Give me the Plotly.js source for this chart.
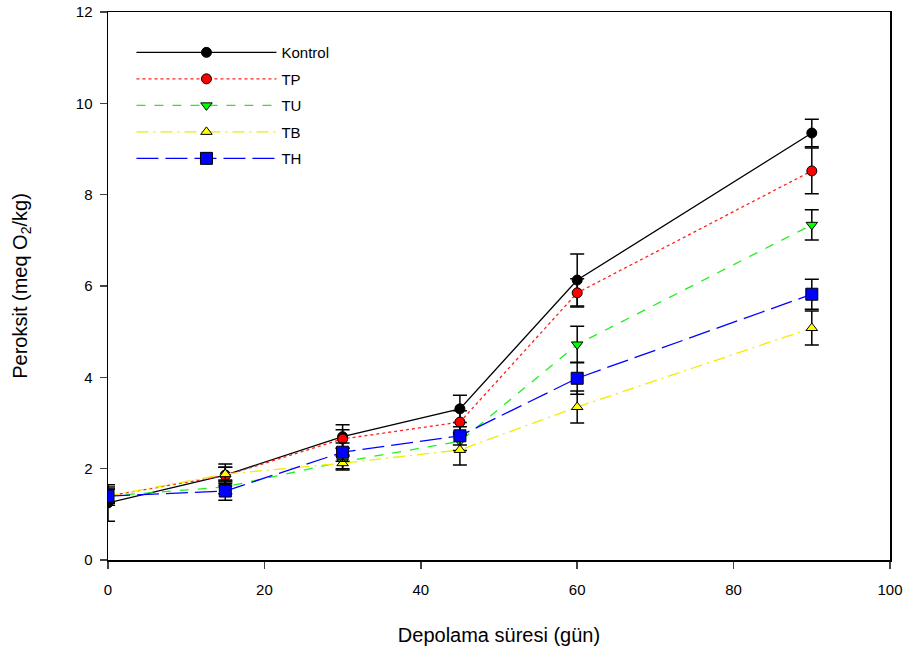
<!DOCTYPE html>
<html>
<head>
<meta charset="utf-8">
<script src="https://cdn.plot.ly/plotly-3.0.1.min.js"></script>
<style>html,body{margin:0;padding:0;background:#fff;}#chart{width:918px;height:659px;}</style>
</head>
<body>
<div id="chart"></div>
<script>
const days = [0, 15, 30, 45, 60, 90];
const seriesNames = ["Kontrol", "TP", "TU", "TB", "TH"];
const kontrol = [1.25, 1.86, 2.70, 3.31, 6.13, 9.35];
const kontrolErr = [0.40, 0.24, 0.26, 0.30, 0.57, 0.30];
const tp = [1.40, 1.85, 2.65, 3.02, 5.85, 8.52];
const tpErr = [0.20, 0.18, 0.20, 0.25, 0.31, 0.50];
const tu = [1.40, 1.60, 2.15, 2.60, 4.72, 7.34];
const tuErr = [0.15, 0.15, 0.15, 0.20, 0.40, 0.33];
const tb = [1.40, 1.88, 2.12, 2.41, 3.35, 5.08];
const tbErr = [0.15, 0.15, 0.15, 0.33, 0.35, 0.37];
const th = [1.40, 1.51, 2.36, 2.72, 3.98, 5.82];
const thErr = [0.15, 0.20, 0.20, 0.20, 0.35, 0.33];

const ys = [kontrol, tp, tu, tb, th];
const errs = [kontrolErr, tpErr, tuErr, tbErr, thErr];
const colors = ["#000000", "#ff0000", "#00ff00", "#ffff00", "#0000ff"];
const lineColors = ["#000000", "#ff2020", "#22ee22", "#eeee00", "#0000ff"];
const symbols = ["circle", "circle", "triangle-down", "triangle-up", "square"];
const dashes = ["solid", "dot", "dash", "12px,5px,2px,5px", "22px,7px"];

const traces = ys.map((y, i) => ({
  x: days, y: y, name: seriesNames[i], type: "scatter", mode: "lines+markers",
  legendgroup: "g" + i,
  line: {color: lineColors[i], width: 1.3, dash: dashes[i]},
  marker: {symbol: symbols[i], size: i === 4 ? 12 : 10, color: colors[i], line: {color: "#000", width: 1}},
  error_y: {type: "data", array: errs[i], visible: true, color: "#000", thickness: 1.5, width: 7}
}));

const fnt = "Liberation Sans, Arial, sans-serif";
const layout = {
  width: 918, height: 659,
  margin: {l: 108, r: 28, t: 12, b: 99},
  paper_bgcolor: "#fff", plot_bgcolor: "#fff",
  font: {family: fnt, size: 14, color: "#000"},
  showlegend: true,
  legend: {x: 0.03, y: 0.956, xanchor: "left", yanchor: "top", bgcolor: "rgba(0,0,0,0)",
    font: {family: fnt, size: 15, color: "#000"}, itemwidth: 140, tracegroupgap: 4},
  xaxis: {range: [0, 100], tickvals: [0, 20, 40, 60, 80, 100], showgrid: false, zeroline: false,
    showline: true, linecolor: "#000", linewidth: 1.5, mirror: true, ticks: "outside", ticklen: 7, tickwidth: 1.5,
    ticklabelstandoff: 8,
    tickfont: {family: fnt, size: 15}, title: {text: "Depolama süresi (gün)", font: {family: fnt, size: 20}, standoff: 31}},
  yaxis: {range: [0, 12], tickvals: [0, 2, 4, 6, 8, 10, 12], showgrid: false, zeroline: false,
    showline: true, linecolor: "#000", linewidth: 1.5, mirror: true, ticks: "outside", ticklen: 7, tickwidth: 1.5,
    ticklabelstandoff: 4,
    tickfont: {family: fnt, size: 15}, title: {text: "Peroksit (meq O<sub>2</sub>/kg)", font: {family: fnt, size: 20}, standoff: 43}}
};
Plotly.newPlot("chart", traces, layout, {displayModeBar: false, staticPlot: true});
</script>
</body>
</html>
